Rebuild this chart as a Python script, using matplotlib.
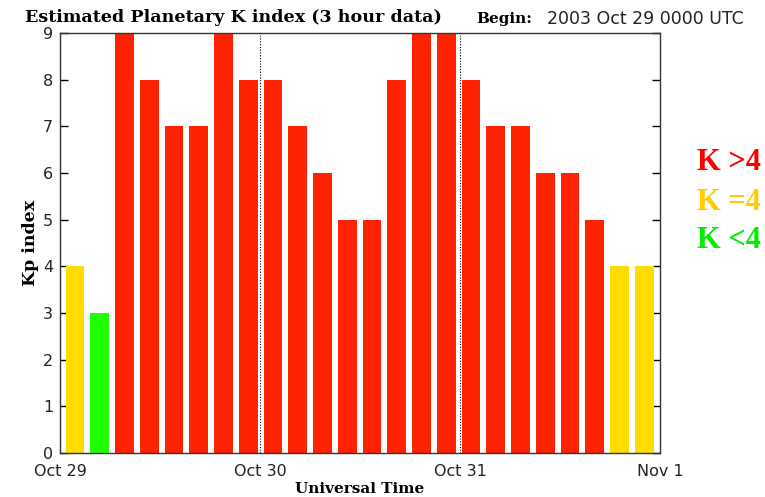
import numpy as np
import matplotlib
matplotlib.use("Agg")
import matplotlib.pyplot as plt

# Estimated planetary Kp index, 3-hour values starting 2003 Oct 29 00 UT
kp = [4, 3, 9, 8, 7, 7, 9, 8, 8, 7, 6, 5, 5, 8, 9, 9, 8, 7, 7, 6, 6, 5, 4, 4]
day_ticks = [0, 24, 48, 72]
day_labels = ["Oct 29", "Oct 30", "Oct 31", "Nov 1"]
legend_labels = ["K >4", "K =4", "K <4"]

RED = "#ff2200"
YELLOW = "#ffdd00"
GREEN = "#22ff00"
legend_colors = ["#ff0000", "#ffcc00", "#00ee00"]


def kp_color(k):
    if k > 4:
        return RED
    if k == 4:
        return YELLOW
    return GREEN


fig = plt.figure(figsize=(7.65, 4.97), dpi=100)
ax = fig.add_axes([60 / 765, 44 / 497, 600 / 765, 420 / 497])

x = np.arange(len(kp)) * 2.97 + 1.8
ax.bar(x, kp, width=2.25, color=[kp_color(k) for k in kp], zorder=2)

for d in day_ticks[1:-1]:
    ax.axvline(d, color="black", lw=0.8, ls=(0, (1, 1.5)), zorder=3)

ax.set_xlim(0, 72)
ax.set_ylim(0, 9)
ax.set_yticks(range(10))
ax.set_xticks(day_ticks)
ax.set_xticklabels(day_labels)
ax.set_xticks(x, minor=True)
ax.tick_params(axis="y", direction="in", length=6, width=1, right=True,
               labelsize=11.5, pad=5, labelcolor="#222222")
ax.tick_params(axis="x", which="major", direction="in", length=0,
               labelsize=11.5, pad=8, labelcolor="#222222")
ax.tick_params(axis="x", which="minor", direction="in", length=4,
               width=0.9, color="white")
for t in ax.xaxis.get_minorticklines():
    t.set_zorder(4)
for s in ax.spines.values():
    s.set_linewidth(1.0)
    s.set_color("#333333")

ax.set_ylabel("Kp index", fontsize=12.5, fontweight="bold", family="DejaVu Serif",
              labelpad=3)
ax.set_xlabel("Universal Time", fontsize=11, fontweight="bold",
              family="DejaVu Serif", labelpad=2)

fig.text(25 / 765, 1 - 17 / 497, "Estimated Planetary K index (3 hour data)",
         fontsize=12.6, fontweight="bold", family="DejaVu Serif", va="center")
fig.text(476 / 765, 1 - 19 / 497, "Begin:", fontsize=11, fontweight="bold",
         family="DejaVu Serif", va="center")
fig.text(547 / 765, 1 - 19 / 497, "2003 Oct 29 0000 UTC", fontsize=12.5,
         va="center", color="#222222")

for i, (lab, col) in enumerate(zip(legend_labels, legend_colors)):
    fig.text(697 / 765, 1 - (163 + 39 * i) / 497, lab, color=col,
             fontsize=22, fontweight="bold", family="Liberation Serif",
             va="center")

fig.savefig("out.png", dpi=100)
